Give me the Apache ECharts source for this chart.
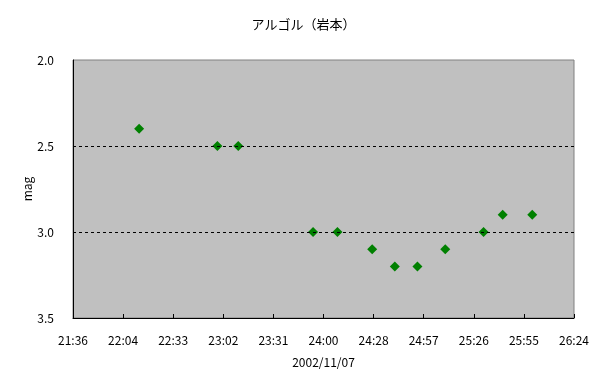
<!DOCTYPE html>
<html><head><meta charset="utf-8">
<script src="https://cdn.jsdelivr.net/npm/echarts@6/dist/echarts.min.js"></script>
<style>html,body{margin:0;padding:0;background:#fff}#c{width:607px;height:380px}</style>
</head><body><div id="c"></div>
<script>
var obsTimes = ["22:14","22:59","23:11","23:54","24:08","24:28","24:41","24:54","25:10","25:32","25:43","26:00"];
var mags = [2.4,2.5,2.5,3.0,3.0,3.1,3.2,3.2,3.1,3.0,2.9,2.9];
var xTickLabels = ["21:36","22:04","22:33","23:02","23:31","24:00","24:28","24:57","25:26","25:55","26:24"];
var yGridLines = [2.5, 3.0];
var xMin = 1296, xMax = 1584, xStep = 28.8;

function toMin(s){var p=s.split(":");return (+p[0])*60+(+p[1]);}
var points = obsTimes.map(function(t,i){return [toMin(t), mags[i]];});
var font = "'Noto Sans CJK JP', 'Liberation Sans', sans-serif";

var chart = echarts.init(document.getElementById('c'));
chart.setOption({
  animation:false,
  backgroundColor:'#fff',
  title:{text:'アルゴル（岩本）',left:'center',top:13,textStyle:{fontSize:13,fontWeight:'normal',color:'#000',fontFamily:font}},
  grid:{left:73,right:33,top:60,bottom:62,show:true,backgroundColor:'#c0c0c0',borderColor:'#808080',borderWidth:1},
  xAxis:{type:'value',min:xMin,max:xMax,interval:xStep,
    name:'2002/11/07',nameLocation:'middle',nameGap:38,nameMoveOverlap:false,
    nameTextStyle:{fontSize:12,color:'#000',fontFamily:font},
    axisLine:{show:true,lineStyle:{color:'#000',width:1}},
    axisTick:{show:true,inside:true,length:4,lineStyle:{color:'#000'}},
    axisLabel:{fontSize:12,color:'#000',fontFamily:font,margin:16,
      formatter:function(v){return xTickLabels[Math.round((v-xMin)/xStep)]||'';}},
    splitLine:{show:false}},
  yAxis:{type:'value',inverse:true,min:2,max:3.5,interval:0.5,
    name:'mag',nameLocation:'middle',nameGap:40,nameRotate:90,nameMoveOverlap:false,
    nameTextStyle:{fontSize:12,color:'#000',fontFamily:font},
    axisLine:{show:true,lineStyle:{color:'#000',width:1}},
    axisTick:{show:false},
    axisLabel:{fontSize:12,color:'#000',fontFamily:font,margin:19,formatter:function(v){return v.toFixed(1);}},
    splitLine:{show:false}},
  series:[{type:'scatter',data:points,symbol:'diamond',symbolSize:10,
    itemStyle:{color:'#008000',opacity:1},
    markLine:{silent:true,symbol:'none',label:{show:false},
      lineStyle:{color:'#000',type:[3,3],width:1},
      data:yGridLines.map(function(v){return {yAxis:v};})},
    z:3}]
});
</script></body></html>
